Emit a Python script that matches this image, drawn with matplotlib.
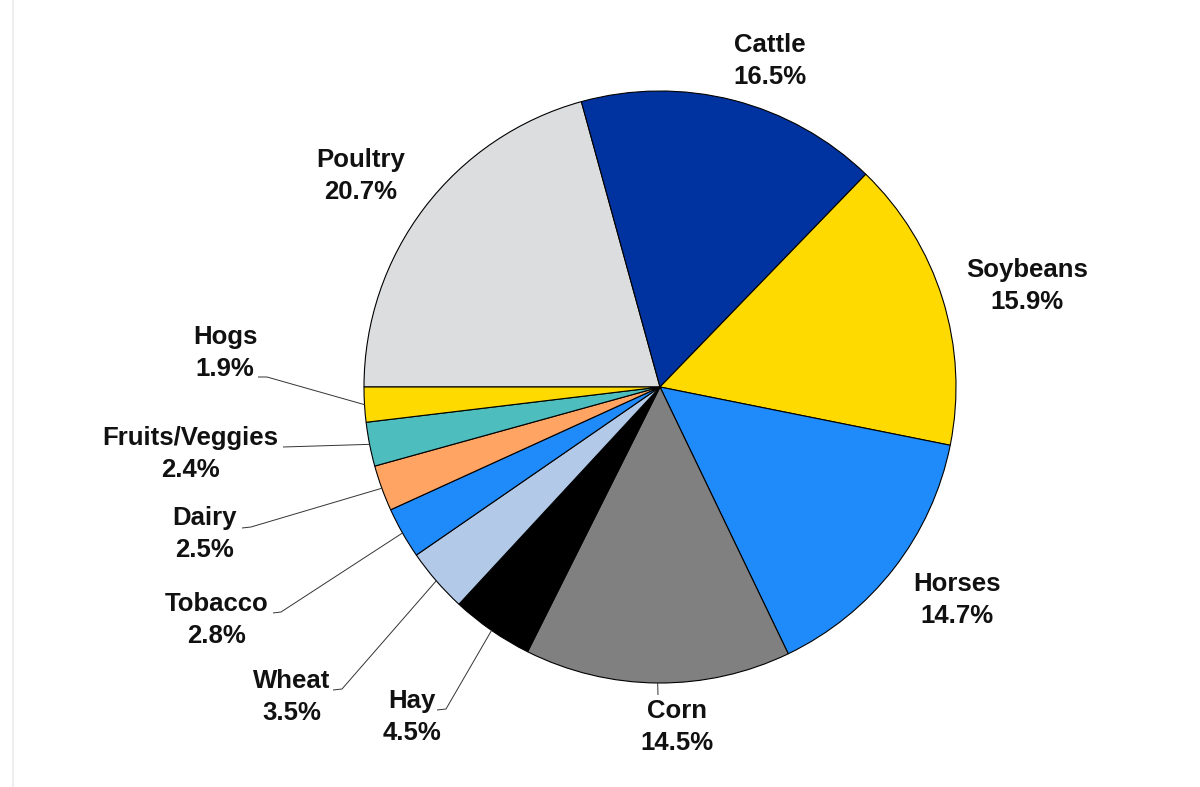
import numpy as np
import matplotlib
matplotlib.use('Agg')
import matplotlib.pyplot as plt
from matplotlib.lines import Line2D

# Data (clockwise from 9 o'clock)
categories = ['Poultry', 'Cattle', 'Soybeans', 'Horses', 'Corn', 'Hay',
              'Wheat', 'Tobacco', 'Dairy', 'Fruits/Veggies', 'Hogs']
shares = [20.7, 16.5, 15.9, 14.7, 14.5, 4.5, 3.5, 2.8, 2.5, 2.4, 1.9]
colors = ['#DCDDDF', '#0033A0', '#FFDA00', '#1F8BFA', '#808080', '#000000',
          '#B2C9E8', '#1F8BFA', '#FFA463', '#4DBDBE', '#FFDA00']

# Layout in image pixels (1200 x 787): pie centre and radius
W, H = 1200, 787
CX, CY, R = 660, 387, 296

# Label centre for each category (pixels)
label_pos = {
    'Poultry': (361, 176), 'Cattle': (770, 61), 'Soybeans': (1027, 286),
    'Horses': (957, 600), 'Corn': (677, 727), 'Hay': (412, 717),
    'Wheat': (292, 697), 'Tobacco': (217, 620), 'Dairy': (205, 534),
    'Fruits/Veggies': (190, 454), 'Hogs': (225, 353),
}
# Leader line: (elbow, end) in pixels
leaders = {
    'Hogs': ((267, 377), (258, 377)),
    'Fruits/Veggies': ((283, 447), (283, 447)),
    'Dairy': ((251, 527), (242, 528)),
    'Tobacco': ((281, 612), (273, 613)),
    'Wheat': ((342, 689), (333, 690)),
    'Hay': ((446, 709), (437, 710)),
    'Corn': ((658, 695), (658, 695)),
}


def px(p):
    # pixel -> data units (pie radius = 1)
    return ((p[0] - CX) / R, (CY - p[1]) / R)


plt.rcParams['font.family'] = ['Liberation Sans', 'DejaVu Sans']

fig = plt.figure(figsize=(12, 7.87), dpi=100)
ax = fig.add_axes([0, 0, 1, 1])

wedges, _ = ax.pie(shares, colors=colors, startangle=180, counterclock=False,
                   wedgeprops=dict(edgecolor='black', linewidth=0.8))
ax.set_xlim(-CX / R, (W - CX) / R)
ax.set_ylim((CY - H) / R, CY / R)
ax.set_aspect('equal')
ax.axis('off')

for w, name, val in zip(wedges, categories, shares):
    tx, ty = px(label_pos[name])
    ax.text(tx, ty, f'{name}\n{val}%', ha='center', va='center',
            fontsize=18.5, fontweight='bold', color='#111111', linespacing=1.4)
    if name in leaders:
        ang = np.deg2rad((w.theta1 + w.theta2) / 2)
        ax_, ay_ = np.cos(ang), np.sin(ang)
        (ex, ey), (sx, sy) = [px(p) for p in leaders[name]]
        ax.plot([ax_, ex, sx], [ay_, ey, sy], color='#333333', linewidth=0.7,
                solid_capstyle='butt')

# faint frame line on the left
fig.add_artist(Line2D([13 / W, 13 / W], [0, 1], transform=fig.transFigure,
                      color='#EBEBEB', linewidth=1.2))

fig.savefig('out.png', dpi=100)
